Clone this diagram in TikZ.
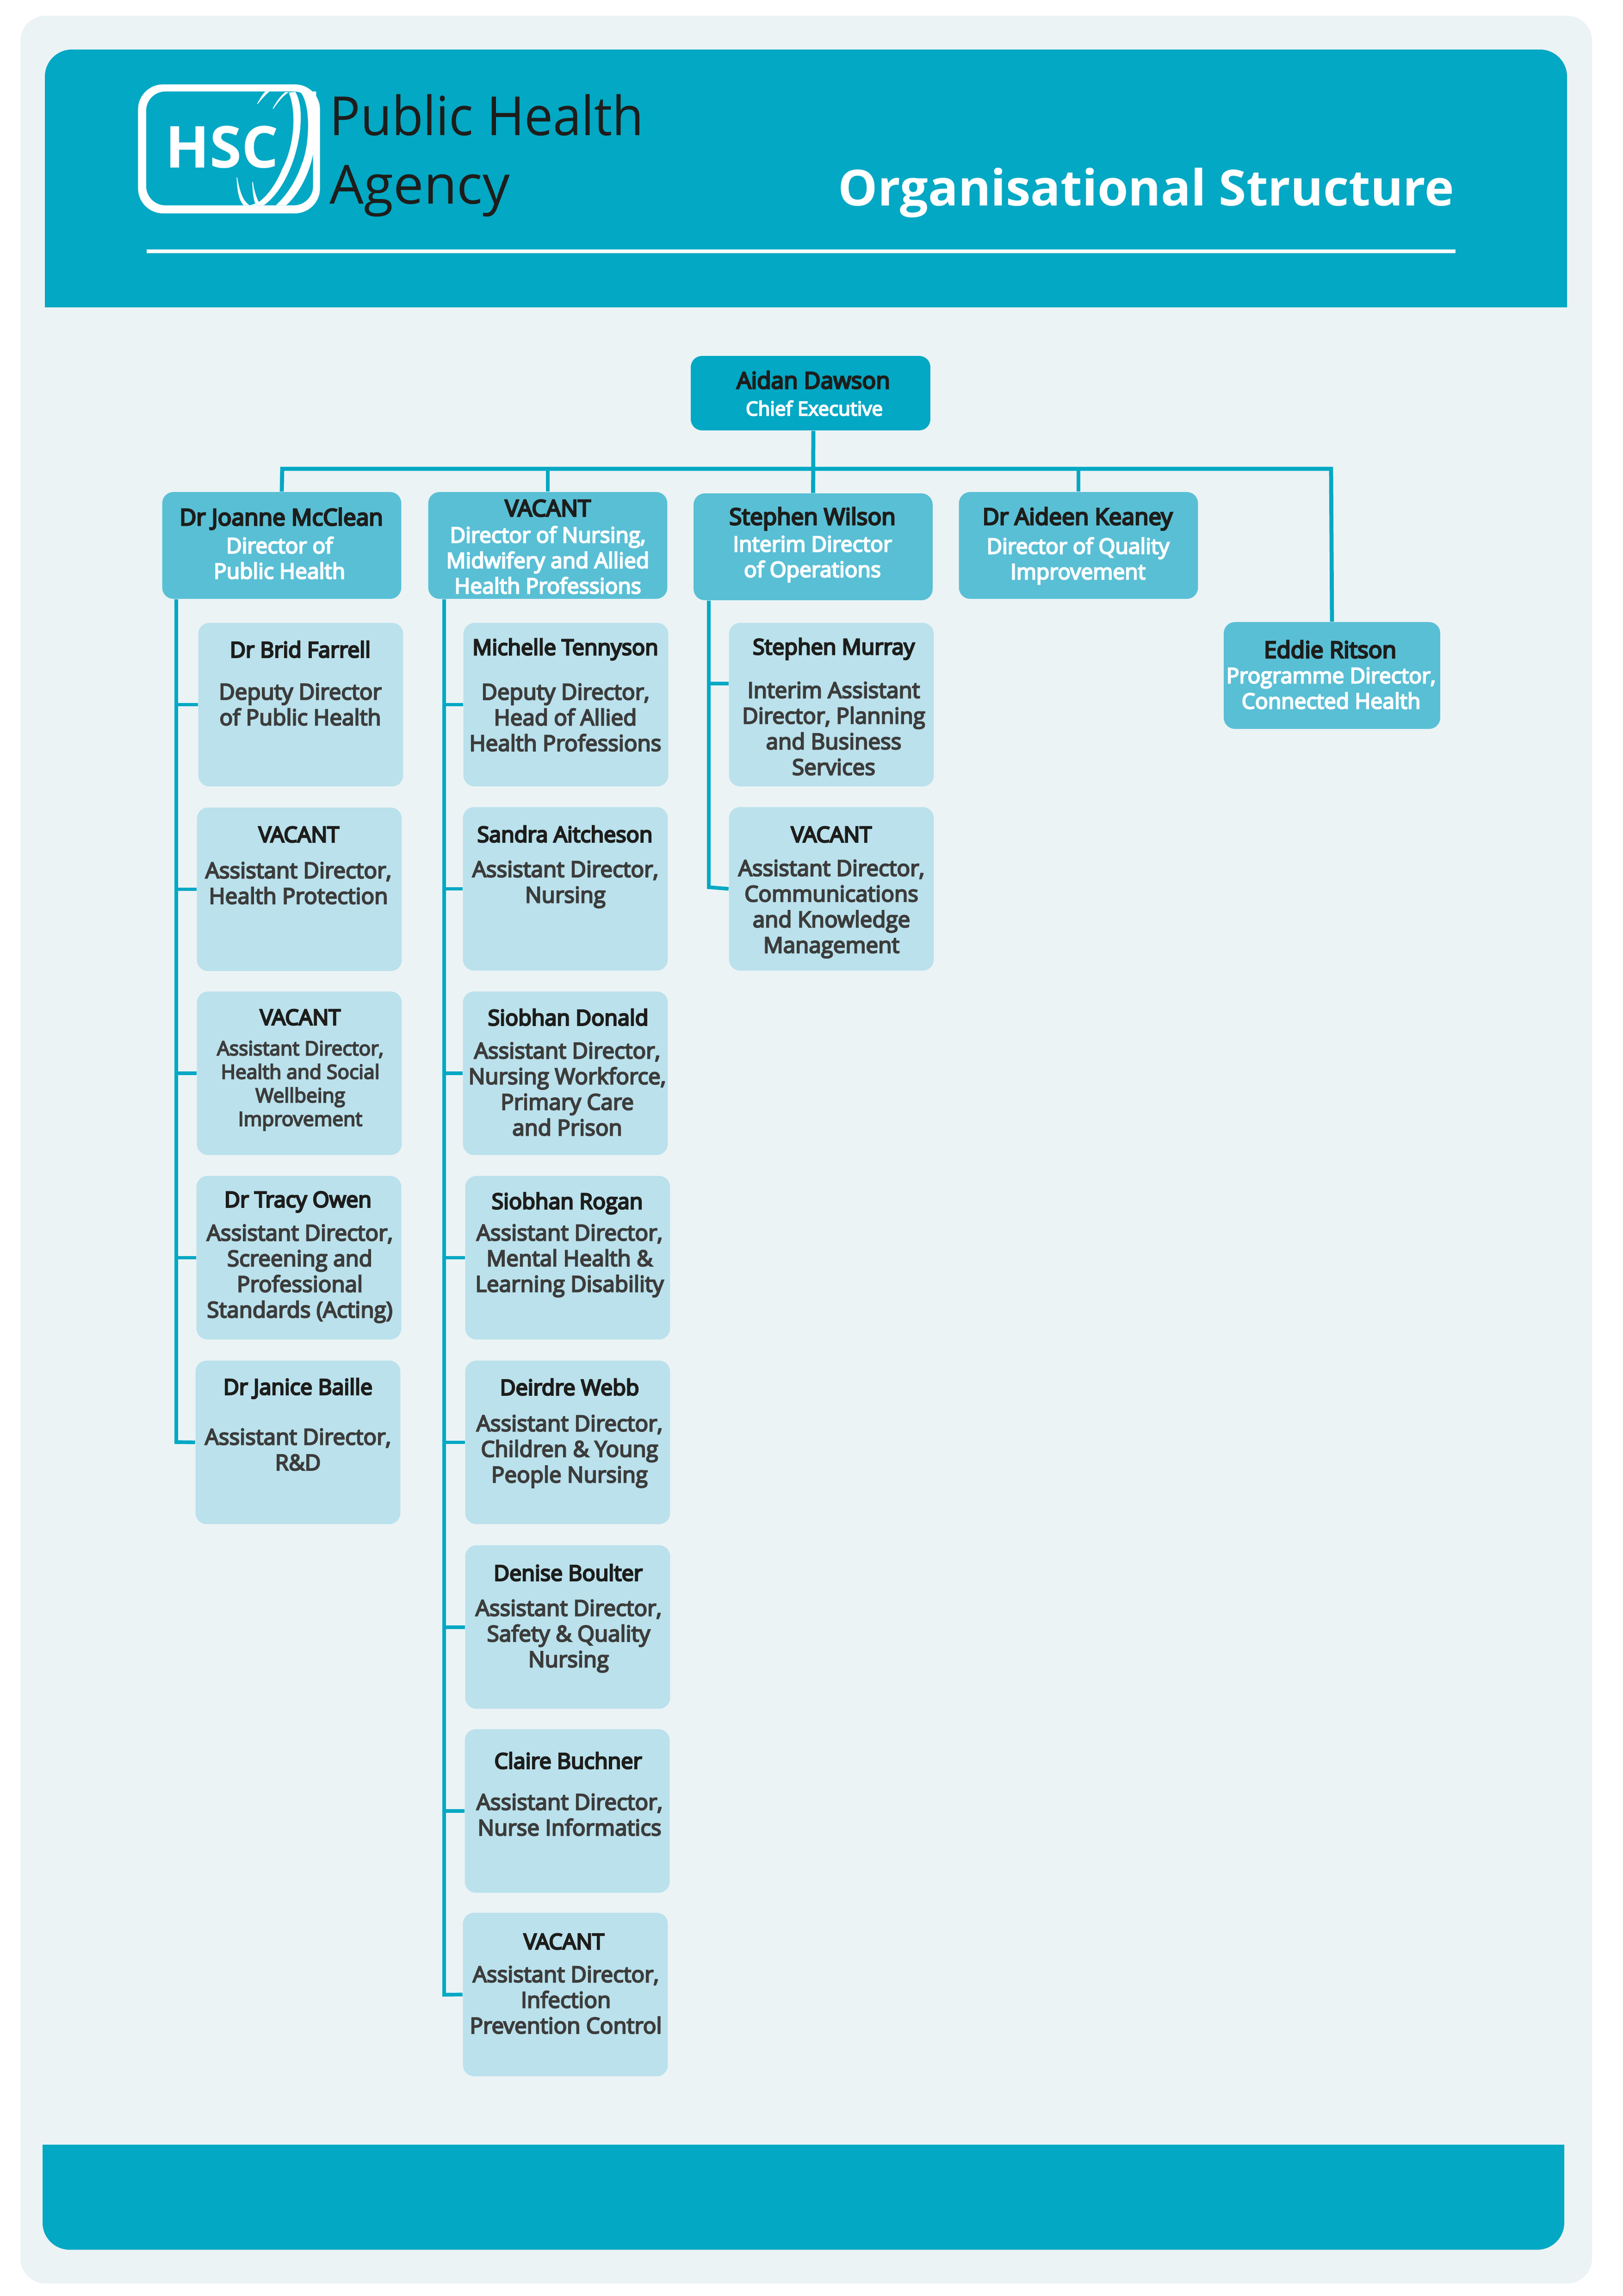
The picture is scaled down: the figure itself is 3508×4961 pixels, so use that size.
\documentclass[tikz,border=0pt]{standalone}
\usepackage{fontspec}
\setmainfont{Open Sans}
\newfontfamily\namefont[FakeBold=6]{Open Sans}
\newfontfamily\rolefont[FakeBold=5]{Open Sans}
\newfontfamily\logofont[FakeStretch=0.947]{Open Sans}
\definecolor{hscteal}{HTML}{02A8C4}
\definecolor{hscmid}{HTML}{59BFD5}
\definecolor{hsclight}{HTML}{BAE1EC}
\definecolor{hscpanel}{HTML}{EBF3F5}
\definecolor{hscink}{HTML}{1D1D1B}
\definecolor{hscgrey}{HTML}{3C3C3B}

\begin{document}
\begin{tikzpicture}[x=0.24pt,y=-0.24pt,
    box/.style={rectangle,rounded corners=5.8pt,inner sep=0pt},
    top box/.style={box,fill=hscteal,minimum width=124.3pt,minimum height=38.6pt},
    head box/.style={box,fill=hscmid,minimum width=124pt,minimum height=55.4pt},
    sub box/.style={box,fill=hsclight,minimum width=106.3pt,minimum height=84.8pt},
    name text/.style={inner sep=0pt,text=hscink,font=\namefont\fontsize{11.9}{13}\selectfont},
    sub name/.style={name text,font=\namefont\fontsize{11.2}{13}\selectfont},
    white text/.style={inner sep=0pt,align=center,text=white,font=\rolefont\fontsize{11.1}{13.2}\selectfont},
    role text/.style={inner sep=0pt,align=center,text=hscgrey,font=\rolefont\fontsize{11.4}{13.3}\selectfont},
    small text/.style={role text,font=\rolefont\fontsize{10.2}{12.2}\selectfont},
    bus/.style={draw=hscteal,line width=2.1pt},
    link/.style={draw=hscteal,line width=1.9pt}]

    \useasboundingbox (0,0) rectangle (3508,4961);

    % panel, header and footer
    \fill[hscpanel,rounded corners=13pt] (44,34) rectangle (3441,4934);
    \fill[hscteal] (97,664) [rounded corners=14pt] -- (97,107) -- (3387,107) [sharp corners] -- (3387,664) -- cycle;
    \fill[hscteal] (92,4634) [rounded corners=14pt] -- (92,4861) -- (3381,4861) [sharp corners] -- (3381,4634) -- cycle;
    \fill[white] (317,539) rectangle (3146,547);

    % logo
    \begin{scope}[shift={(290,175)},x=0.08pt,y=-0.08pt]
        \fill[white,rounded corners=13pt] (25,22) rectangle (1205,858);
        \fill[hscteal,rounded corners=10pt] (78,68) rectangle (1160,806);
        \fill[white] (1075,68) .. controls (1150,150) and (1135,420) .. (1090,530) .. controls (1050,650) and (990,740) .. (918,806) -- (985,806) .. controls (1070,730) and (1135,600) .. (1160,475) -- (1180,300) -- (1180,68) -- cycle;
        \fill[white] (1003,75) .. controls (1060,220) and (1030,440) .. (960,570) .. controls (920,670) and (860,750) .. (807,785) -- (785,795) -- (750,806) -- (840,806) .. controls (960,720) and (1040,540) .. (1070,360) .. controls (1090,230) and (1080,130) .. (1045,70) -- cycle;
        \fill[white] (797,148) .. controls (815,115) and (830,90) .. (850,68) -- (878,68) .. controls (850,90) and (825,120) .. (800,150) -- cycle;
        \fill[white] (898,178) .. controls (925,130) and (950,95) .. (980,72) -- (1003,72) .. controls (965,95) and (930,140) .. (903,180) -- cycle;
        \fill[white] (664,625) .. controls (668,700) and (675,770) .. (710,806) -- (750,806) .. controls (705,780) and (685,720) .. (668,625) -- cycle;
        \fill[white] (765,655) .. controls (768,710) and (772,760) .. (785,795) -- (808,785) .. controls (790,750) and (778,710) .. (770,655) -- cycle;
    \end{scope}
    \node[inner sep=0pt,text=white,font=\bfseries\fontsize{30}{30}\selectfont] (hsc) at (480,318) {HSC};
    \node[inner sep=0pt,anchor=base west,text=hscink,font=\logofont\fontsize{28}{30}\selectfont] (pha one) at (712,292) {Public Health};
    \node[inner sep=0pt,anchor=base west,text=hscink,font=\fontsize{28}{30}\selectfont] (pha two) at (712,440) {Agency};
    \node[inner sep=0pt,anchor=base east,text=white,font=\bfseries\fontsize{25.8}{30}\selectfont] (title) at (3144,444) {Organisational Structure};

    % first two levels
    \node[top box] (aidan) at (1752,849.5) {};
    \node[head box] (joanne) at (609,1178.5) {};
    \node[head box] (nursing) at (1184,1178.5) {};
    \node[head box] (wilson) at (1757.5,1181.5) {};
    \node[head box] (keaney) at (2331,1178.5) {};
    \node[head box,minimum width=112.3pt] (ritson) at (2879,1459.5) {};

    \node[name text] (aidan name) at (1758,821) {Aidan Dawson};
    \node[white text,font=\rolefont\fontsize{10.1}{11}\selectfont] (aidan role) at (1760,882) {Chief Executive};
    \node[name text] (joanne name) at (608,1121) {Dr Joanne McClean};
    \node[white text] (joanne role) at (604,1205.5) {Director of\\Public Health};
    \node[name text] (nursing name) at (1184,1098) {VACANT};
    \node[white text] (nursing role) at (1184,1210) {Director of Nursing,\\Midwifery and Allied\\Health Professions};
    \node[name text] (wilson name) at (1756,1121) {Stephen Wilson};
    \node[white text] (wilson role) at (1756,1208) {Interim Director\\of Operations};
    \node[name text] (keaney name) at (2329,1121) {Dr Aideen Keaney};
    \node[white text] (keaney role) at (2330,1212) {Director of Quality\\Improvement};
    \node[name text] (ritson name) at (2875,1403) {Eddie Ritson};
    \node[white text] (ritson role) at (2877,1487) {Programme Director,\\Connected Health};

    % public health column
    \node[sub box] (farrell) at (650,1522.5) {};
    \node[sub box] (protection) at (647,1921.5) {};
    \node[sub box] (wellbeing) at (647,2319) {};
    \node[sub box] (owen) at (646,2717.5) {};
    \node[sub box] (baille) at (644,3116.5) {};

    \node[sub name] (farrell name) at (649,1403) {Dr Brid Farrell};
    \node[role text] (farrell role) at (649,1522) {Deputy Director\\of Public Health};
    \node[sub name] (protection name) at (646,1803) {VACANT};
    \node[role text] (protection role) at (645,1908) {Assistant Director,\\Health Protection};
    \node[sub name] (wellbeing name) at (649,2198) {VACANT};
    \node[small text] (wellbeing role) at (649,2346) {Assistant Director,\\Health and Social\\Wellbeing\\Improvement};
    \node[sub name] (owen name) at (644,2597) {Dr Tracy Owen};
    \node[role text] (owen role) at (648,2752) {Assistant Director,\\Screening and\\Professional\\Standards (Acting)};
    \node[sub name] (baille name) at (644,3000) {Dr Janice Baille};
    \node[role text] (baille role) at (644,3132) {Assistant Director,\\R\&D};

    % nursing column
    \node[sub box] (tennyson) at (1223,1522.5) {};
    \node[sub box] (aitcheson) at (1222,1920.5) {};
    \node[sub box] (donald) at (1222,2319) {};
    \node[sub box] (rogan) at (1227,2717.5) {};
    \node[sub box] (webb) at (1227,3116.5) {};
    \node[sub box] (boulter) at (1227,3515.5) {};
    \node[sub box] (buchner) at (1226,3913) {};
    \node[sub box] (infection) at (1222,4309.5) {};

    \node[sub name] (tennyson name) at (1222,1403) {Michelle Tennyson};
    \node[role text] (tennyson role) at (1222,1550) {Deputy Director,\\Head of Allied\hspace{12pt}\\Health Professions};
    \node[sub name] (aitcheson name) at (1221,1802) {Sandra Aitcheson};
    \node[role text] (aitcheson role) at (1222,1911) {Assistant Director,\\Nursing};
    \node[sub name] (donald name) at (1228,2198) {Siobhan Donald};
    \node[role text] (donald role) at (1226,2353) {Assistant Director,\\Nursing Workforce,\\Primary Care\\and Prison};
    \node[sub name] (rogan name) at (1226,2600) {Siobhan Rogan};
    \node[role text] (rogan role) at (1231,2724) {Assistant Director,\\Mental Health \&\\Learning Disability};
    \node[sub name] (webb name) at (1231,2997) {Deirdre Webb};
    \node[role text] (webb role) at (1231,3136) {Assistant Director,\\Children \& Young\\People Nursing};
    \node[sub name] (boulter name) at (1228,3398) {Denise Boulter};
    \node[role text] (boulter role) at (1229,3535) {Assistant Director,\\Safety \& Quality\\Nursing};
    \node[sub name] (buchner name) at (1228,3804) {Claire Buchner};
    \node[role text] (buchner role) at (1231,3921) {Assistant Director,\\Nurse Informatics};
    \node[sub name] (infection name) at (1219,4195) {VACANT};
    \node[role text] (infection role) at (1223,4321) {Assistant Director,\\Infection\\Prevention Control};

    % operations column
    \node[sub box] (murray) at (1797,1522.5) {};
    \node[sub box] (comms) at (1797,1920.5) {};

    \node[sub name] (murray name) at (1802,1402) {Stephen Murray};
    \node[role text] (murray role) at (1802,1574) {Interim Assistant\\Director, Planning\\and Business\\Services};
    \node[sub name] (comms name) at (1797,1803) {VACANT};
    \node[role text] (comms role) at (1797,1964) {Assistant Director,\\Communications\\and Knowledge\\Management};

    % connectors
    \coordinate (bus left) at (610,1013);
    \coordinate (bus mid) at (1758,1013);
    \coordinate (bus right) at (2877,1013);
    \coordinate (trunk health) at (381,3116);
    \coordinate (trunk nursing) at (960,4310);
    \coordinate (trunk ops) at (1532,1917);
    \coordinate (murray tap) at ([yshift=11pt]murray.west);

    \draw[bus] (joanne.north) -- (bus left) -- (bus right) -- (ritson.north);
    \path[bus]
        (bus mid |- aidan.south) edge (wilson.north)
        (nursing.north |- bus left) edge (nursing.north)
        (keaney.north |- bus left) edge (keaney.north)
        ;

    \draw[link] (trunk health |- joanne.south) -- (trunk health) -- (baille.west);
    \draw[link] (trunk nursing |- nursing.south) -- (trunk nursing) -- (infection.west);
    \draw[link] (trunk ops |- wilson.south) -- (trunk ops) -- (comms.west);
    \path[link]
        (trunk health |- farrell.west) edge (farrell.west)
        (trunk health |- protection.west) edge (protection.west)
        (trunk health |- wellbeing.west) edge (wellbeing.west)
        (trunk health |- owen.west) edge (owen.west)
        (trunk nursing |- tennyson.west) edge (tennyson.west)
        (trunk nursing |- aitcheson.west) edge (aitcheson.west)
        (trunk nursing |- donald.west) edge (donald.west)
        (trunk nursing |- rogan.west) edge (rogan.west)
        (trunk nursing |- webb.west) edge (webb.west)
        (trunk nursing |- boulter.west) edge (boulter.west)
        (trunk nursing |- buchner.west) edge (buchner.west)
        (trunk ops |- murray tap) edge (murray tap)
        ;
\end{tikzpicture}
\end{document}
